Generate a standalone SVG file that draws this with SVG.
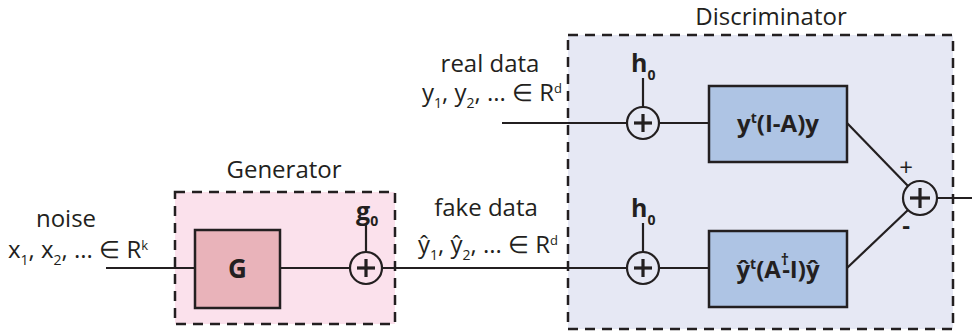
<svg xmlns="http://www.w3.org/2000/svg" width="972" height="335" viewBox="0 0 972 335">
<style>
.lbl{font-family:"Open Sans","Noto Sans","Liberation Sans",sans-serif;font-size:24px;fill:#231f20}
.bold{font-family:"Open Sans","Noto Sans","Liberation Sans",sans-serif;font-weight:bold;fill:#231f20}
.sub{font-size:14px}
.sup{font-size:13px}
.dash{stroke:#231f20;stroke-width:2.5;stroke-dasharray:10 7}
.box{stroke:#231f20;stroke-width:2.5}
.ln{stroke:#231f20;stroke-width:2.2;fill:none}
.sum{fill:none;stroke:#231f20;stroke-width:2.2}
.plus{stroke:#231f20;stroke-width:3.2}
</style>
<g id="generator">
<rect class="dash" x="175" y="192" width="220" height="132" fill="#fbe1ec"/>
<text class="lbl" x="284" y="178" text-anchor="middle">Generator</text>
</g>
<g id="discriminator">
<rect class="dash" x="568" y="35" width="385" height="294" fill="#e6e8f4"/>
<text class="lbl" x="771" y="25" text-anchor="middle">Discriminator</text>
</g>
<g id="connectors">
<line class="ln" x1="106" y1="268" x2="195" y2="268"/>
<line class="ln" x1="280" y1="268" x2="350" y2="268"/>
<line class="ln" x1="382" y1="268" x2="627" y2="268"/>
<line class="ln" x1="366" y1="224" x2="366" y2="252"/>
<line class="ln" x1="502" y1="123" x2="627" y2="123"/>
<line class="ln" x1="659" y1="123" x2="709" y2="123"/>
<line class="ln" x1="659" y1="268" x2="709" y2="268"/>
<line class="ln" x1="643" y1="78" x2="643" y2="107"/>
<line class="ln" x1="643" y1="223" x2="643" y2="252"/>
<line class="ln" x1="847" y1="123" x2="908" y2="186"/>
<line class="ln" x1="847" y1="268" x2="908" y2="210"/>
<line class="ln" x1="937" y1="198" x2="972" y2="198"/>
</g>
<g id="noise-label">
<text class="lbl" x="66" y="227" text-anchor="middle">noise</text>
<text class="lbl" x="78" y="258" text-anchor="middle">x<tspan class="sub" dy="7">1</tspan><tspan dy="-7">, x</tspan><tspan class="sub" dy="7">2</tspan><tspan dy="-7">, ... ∈ R</tspan><tspan class="sup" dy="-8">k</tspan></text>
</g>
<g id="G">
<rect class="box" x="195" y="230" width="85" height="78" fill="#e9b3ba"/>
<text class="bold" x="237.5" y="278" font-size="26" text-anchor="middle">G</text>
</g>
<g id="gen-sum">
<circle class="sum" cx="366" cy="268" r="16" fill="#fbe1ec"/>
<line class="plus" x1="357" y1="268" x2="375" y2="268"/>
<line class="plus" x1="366" y1="259" x2="366" y2="277"/>
<text class="bold" x="356" y="220" font-size="25">g<tspan class="sub" dy="6">0</tspan></text>
</g>
<g id="real-label">
<text class="lbl" x="490" y="72" text-anchor="middle" font-size="23">real data</text>
<text class="lbl" x="492" y="101" text-anchor="middle" font-size="23">y<tspan class="sub" dy="7">1</tspan><tspan dy="-7">, y</tspan><tspan class="sub" dy="7">2</tspan><tspan dy="-7">, ... ∈ R</tspan><tspan class="sup" dy="-8">d</tspan></text>
</g>
<g id="fake-label">
<text class="lbl" x="486" y="216" text-anchor="middle">fake data</text>
<text class="lbl" x="488" y="253" text-anchor="middle">ŷ<tspan class="sub" dy="7">1</tspan><tspan dy="-7">, ŷ</tspan><tspan class="sub" dy="7">2</tspan><tspan dy="-7">, ... ∈ R</tspan><tspan class="sup" dy="-8">d</tspan></text>
</g>
<g id="real-sum">
<circle class="sum" cx="643" cy="123" r="16" fill="#e6e8f4"/>
<line class="plus" x1="634" y1="123" x2="652" y2="123"/>
<line class="plus" x1="643" y1="114" x2="643" y2="132"/>
<text class="bold" x="631" y="72" font-size="25">h<tspan class="sub" dy="8">0</tspan></text>
</g>
<g id="fake-sum">
<circle class="sum" cx="643" cy="268" r="16" fill="#e6e8f4"/>
<line class="plus" x1="634" y1="268" x2="652" y2="268"/>
<line class="plus" x1="643" y1="259" x2="643" y2="277"/>
<text class="bold" x="631" y="217" font-size="25">h<tspan class="sub" dy="8">0</tspan></text>
</g>
<g id="real-block">
<rect class="box" x="709" y="86" width="138" height="76" fill="#aec4e4"/>
<text class="bold" x="778" y="132" font-size="24" text-anchor="middle">y<tspan class="sub" dy="-9">t</tspan><tspan dy="9">(I-A)y</tspan></text>
</g>
<g id="fake-block">
<rect class="box" x="709" y="231" width="138" height="76" fill="#aec4e4"/>
<text class="bold" x="778" y="278" font-size="24" text-anchor="middle">ŷ<tspan class="sub" dy="-9">t</tspan><tspan dy="9">(A</tspan><tspan font-size="16" dy="-13">†</tspan><tspan dx="-7" dy="13">-I)ŷ</tspan></text>
</g>
<g id="out-sum">
<circle class="sum" cx="920" cy="198" r="17" fill="#e6e8f4"/>
<line class="plus" x1="910" y1="198" x2="930" y2="198"/>
<line class="plus" x1="920" y1="188" x2="920" y2="208"/>
<text class="lbl" x="906" y="176" font-size="22" text-anchor="middle">+</text>
<text class="bold" x="906" y="234" font-size="24" text-anchor="middle">-</text>
</g>
</svg>
